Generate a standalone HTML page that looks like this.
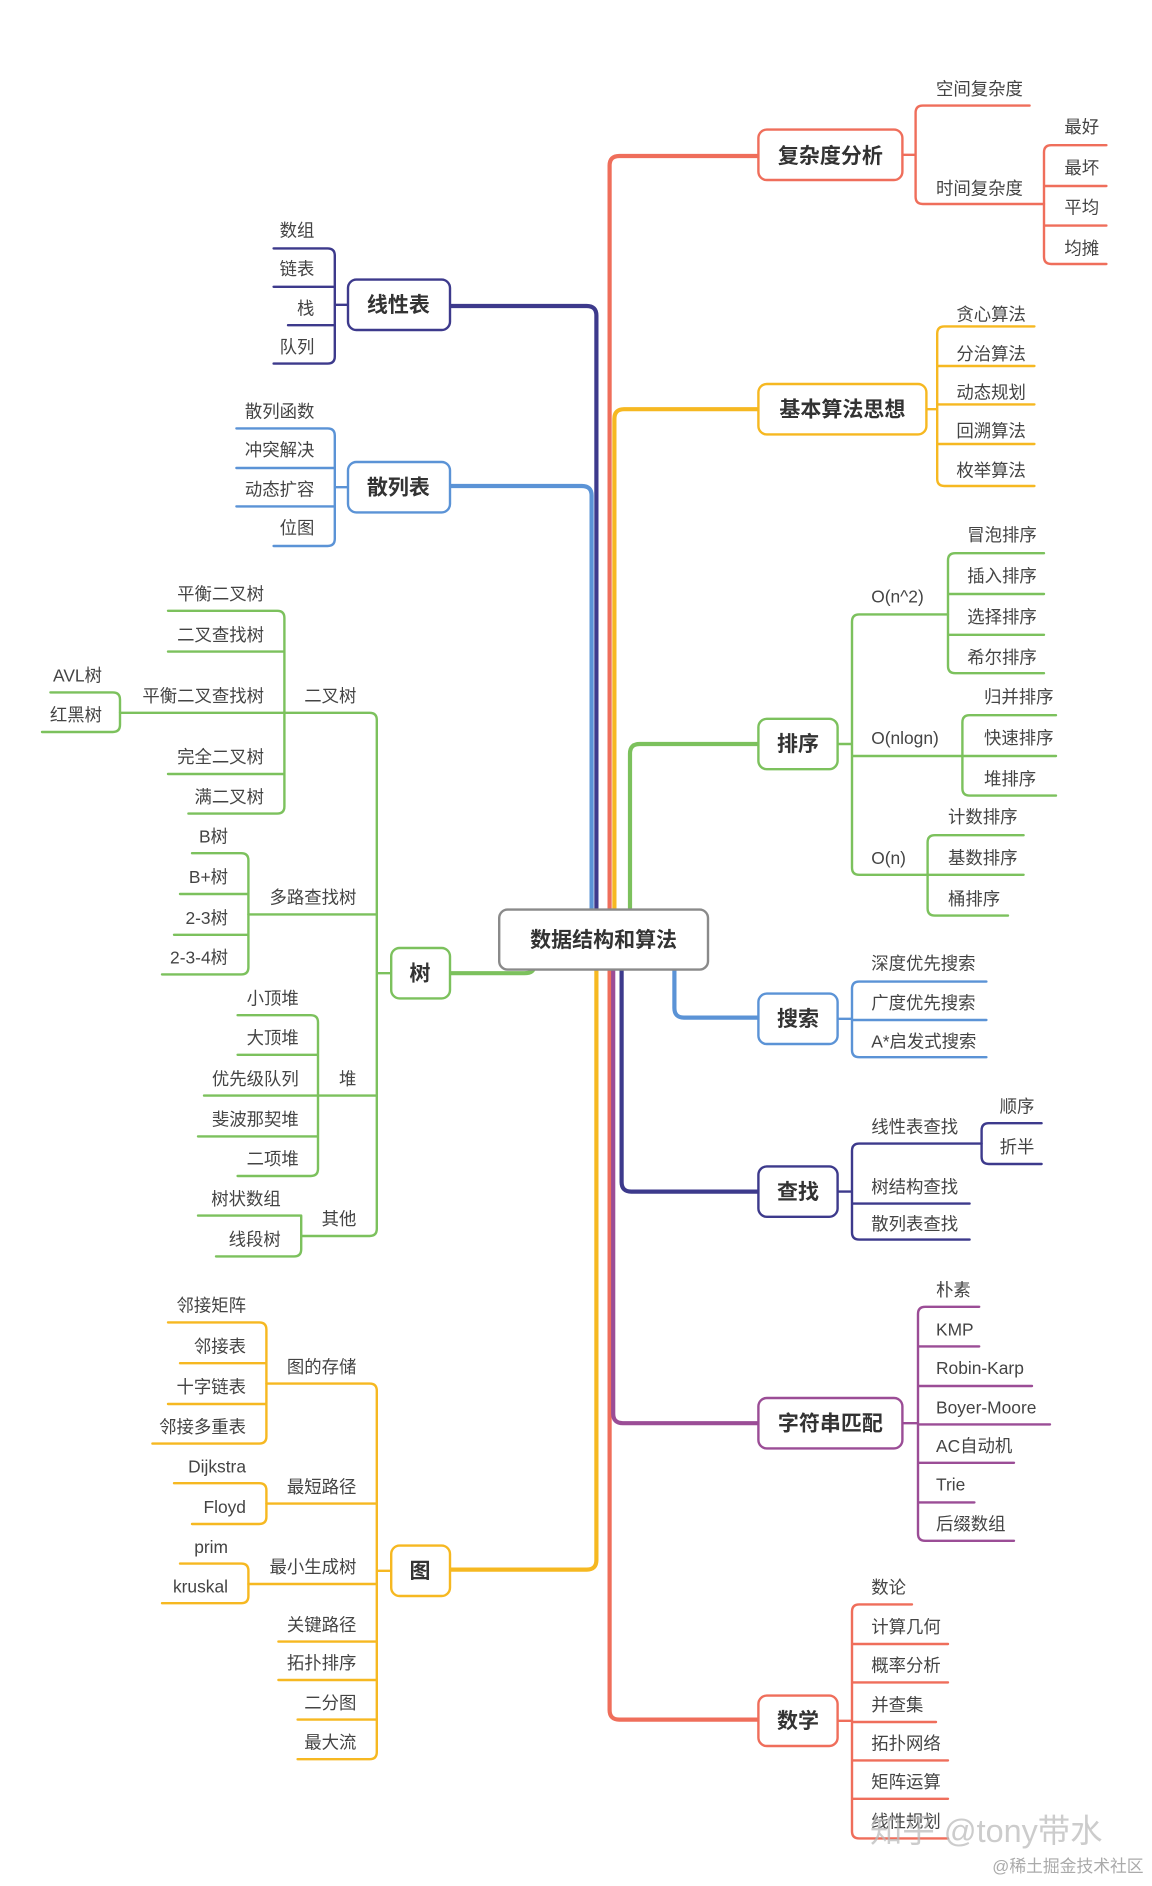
<!DOCTYPE html>
<html><head><meta charset="utf-8"><style>
html,body{margin:0;padding:0;background:#fff;}
svg{display:block;}
text{font-family:"Liberation Sans","Noto Sans CJK SC",sans-serif;fill:#444;font-size:14.5px;}
.n{font-size:17.5px;font-weight:bold;fill:#333;}
.r{text-anchor:end;}
</style></head><body>
<svg width="1152" height="1886" viewBox="0 0 960 1571.67" xmlns="http://www.w3.org/2000/svg">
<g fill="none" stroke-linecap="round" stroke-linejoin="round">
<!-- trunk -->
<g stroke-width="3.5">
<path stroke="#ef6e5b" d="M632,130 H516 Q508,130 508,138 V1425 Q508,1433 516,1433 H632"/>
<path stroke="#f6b821" d="M632,341 H520 Q512,341 512,349 V780"/>
<path stroke="#f6b821" d="M497,780 V1300 Q497,1308 489,1308 H376"/>
<path stroke="#7cc15d" d="M632,620 H533 Q525,620 525,628 V780"/>
<path stroke="#3d3a8c" d="M376,255 H489 Q497,255 497,263 V780"/>
<path stroke="#5b93d6" d="M376,405 H485 Q493,405 493,413 V780"/>
<path stroke="#3d3a8c" d="M518,790 V985 Q518,993 526,993 H632"/>
<path stroke="#9b4d96" d="M511,790 V1178 Q511,1186 519,1186 H632"/>
<path stroke="#5b93d6" d="M562,790 V840 Q562,848 570,848 H632"/>
<path stroke="#7cc15d" d="M445,790 V805 Q445,811 437,811 H376"/>
</g>
<g stroke-width="2">
<!-- 复杂度分析 -->
<g stroke="#ef6e5b">
<path d="M752,129 H763 M858,88 H769 Q763,88 763,94 V164 Q763,170 769,170 H870"/>
<path d="M922,121 H876 Q870,121 870,127 V214 Q870,220 876,220 H922 M870,155 H922 M870,188 H922"/>
</g>
<!-- 基本算法思想 -->
<g stroke="#f6b821">
<path d="M772,341 H781 M862,272 H787 Q781,272 781,278 V399 Q781,405 787,405 H862 M781,305 H862 M781,337 H862 M781,370 H862"/>
</g>
<!-- 排序 -->
<g stroke="#7cc15d">
<path d="M698,620 H710 M790,512 H716 Q710,512 710,518 V723 Q710,729 716,729 H773 M710,630 H802"/>
<path d="M870,461 H796 Q790,461 790,467 V555 Q790,561 796,561 H870 M790,495 H870 M790,529 H870"/>
<path d="M880,596 H808 Q802,596 802,602 V657 Q802,663 808,663 H880 M802,630 H880"/>
<path d="M853,696 H779 Q773,696 773,702 V757 Q773,763 779,763 H840 M773,729 H853"/>
</g>
<!-- 搜索 -->
<g stroke="#5b93d6">
<path d="M698,849 H710 M822,818 H716 Q710,818 710,824 V875 Q710,881 716,881 H822 M710,850 H822"/>
</g>
<!-- 查找 -->
<g stroke="#3d3a8c">
<path d="M698,993 H710 M818,953 H716 Q710,953 710,959 V1027 Q710,1033 716,1033 H808 M710,1003 H808"/>
<path d="M868,936 H824 Q818,936 818,942 V964 Q818,970 824,970 H868"/>
</g>
<!-- 字符串匹配 -->
<g stroke="#9b4d96">
<path d="M752,1186 H765 M816,1089 H771 Q765,1089 765,1095 V1278 Q765,1284 771,1284 H845 M765,1122 H816 M765,1155 H860 M765,1187 H875 M765,1219 H845 M765,1252 H812"/>
</g>
<!-- 数学 -->
<g stroke="#ef6e5b">
<path d="M698,1434 H710 M760,1337 H716 Q710,1337 710,1343 V1526 Q710,1532 716,1532 H790 M710,1370 H790 M710,1402 H790 M710,1435 H780 M710,1467 H790 M710,1499 H790"/>
</g>
<!-- 线性表 -->
<g stroke="#3d3a8c">
<path d="M290,254 H279 M228,207 H273 Q279,207 279,213 V297 Q279,303 273,303 H228 M228,239 H279 M240,271 H279"/>
</g>
<!-- 散列表 -->
<g stroke="#5b93d6">
<path d="M290,406 H279 M197,357 H273 Q279,357 279,363 V449 Q279,455 273,455 H228 M197,390 H279 M197,422 H279"/>
</g>
<!-- 树 -->
<g stroke="#7cc15d">
<path d="M326,811 H314 M237,594 H308 Q314,594 314,600 V1024 Q314,1030 308,1030 H251 M207,762 H314 M265,913 H314"/>
<path d="M140,509 H231 Q237,509 237,515 V672 Q237,678 231,678 H157 M140,543 H237 M140,645 H237 M100,594 H237"/>
<path d="M42,577 H94 Q100,577 100,583 V604 Q100,610 94,610 H35"/>
<path d="M160,711 H201 Q207,711 207,717 V806 Q207,812 201,812 H135 M150,745 H207 M145,779 H207"/>
<path d="M198,846 H259 Q265,846 265,852 V974 Q265,980 259,980 H198 M198,879 H265 M170,913 H265 M165,947 H265"/>
<path d="M165,1013 H251 M180,1047 H245 Q251,1047 251,1041 V1013"/>
</g>
<!-- 图 -->
<g stroke="#f6b821">
<path d="M326,1309 H314 M222,1153 H308 Q314,1153 314,1159 V1460 Q314,1466 308,1466 H248 M222,1253 H314 M207,1320 H314 M232,1368 H314 M232,1400 H314 M248,1433 H314"/>
<path d="M140,1102 H216 Q222,1102 222,1108 V1197 Q222,1203 216,1203 H127 M150,1136 H222 M140,1170 H222"/>
<path d="M145,1236 H216 Q222,1236 222,1242 V1264 Q222,1270 216,1270 H160"/>
<path d="M150,1303 H201 Q207,1303 207,1309 V1330 Q207,1336 201,1336 H135"/>
</g>
</g>
<!-- nodes -->
<g stroke-width="2" fill="#fff">
<rect x="416" y="758" width="174" height="50" rx="7" stroke="#8a8a8a"/>
<rect x="632" y="108" width="120" height="42" rx="7" stroke="#ef6e5b"/>
<rect x="632" y="320" width="140" height="42" rx="7" stroke="#f6b821"/>
<rect x="632" y="599" width="66" height="42" rx="7" stroke="#7cc15d"/>
<rect x="632" y="828" width="66" height="42" rx="7" stroke="#5b93d6"/>
<rect x="632" y="972" width="66" height="42" rx="7" stroke="#3d3a8c"/>
<rect x="632" y="1165" width="120" height="42" rx="7" stroke="#9b4d96"/>
<rect x="632" y="1413" width="66" height="42" rx="7" stroke="#ef6e5b"/>
<rect x="290" y="233" width="85" height="42" rx="7" stroke="#3d3a8c"/>
<rect x="290" y="385" width="85" height="42" rx="7" stroke="#5b93d6"/>
<rect x="326" y="790" width="49" height="42" rx="7" stroke="#7cc15d"/>
<rect x="326" y="1288" width="49" height="42" rx="7" stroke="#f6b821"/>
</g>
</g>
<g class="n">
<text class="n" x="503" y="789" text-anchor="middle">数据结构和算法</text>
<text class="n" x="692" y="136" text-anchor="middle">复杂度分析</text>
<text class="n" x="702" y="347" text-anchor="middle">基本算法思想</text>
<text class="n" x="665" y="626" text-anchor="middle">排序</text>
<text class="n" x="665" y="855" text-anchor="middle">搜索</text>
<text class="n" x="665" y="999" text-anchor="middle">查找</text>
<text class="n" x="692" y="1192" text-anchor="middle">字符串匹配</text>
<text class="n" x="665" y="1440" text-anchor="middle">数学</text>
<text class="n" x="332" y="260" text-anchor="middle">线性表</text>
<text class="n" x="332" y="412" text-anchor="middle">散列表</text>
<text class="n" x="350" y="817" text-anchor="middle">树</text>
<text class="n" x="350" y="1315" text-anchor="middle">图</text>
</g>
<!-- right leaves -->
<text x="780" y="79">空间复杂度</text>
<text x="780" y="162">时间复杂度</text>
<text x="887" y="111">最好</text>
<text x="887" y="145">最坏</text>
<text x="887" y="178">平均</text>
<text x="887" y="212">均摊</text>
<text x="797" y="267">贪心算法</text>
<text x="797" y="300">分治算法</text>
<text x="797" y="332">动态规划</text>
<text x="797" y="364">回溯算法</text>
<text x="797" y="397">枚举算法</text>
<text x="726" y="502">O(n^2)</text>
<text x="726" y="620">O(nlogn)</text>
<text x="726" y="720">O(n)</text>
<text x="806" y="451">冒泡排序</text>
<text x="806" y="485">插入排序</text>
<text x="806" y="519">选择排序</text>
<text x="806" y="553">希尔排序</text>
<text x="820" y="586">归并排序</text>
<text x="820" y="620">快速排序</text>
<text x="820" y="654">堆排序</text>
<text x="790" y="686">计数排序</text>
<text x="790" y="720">基数排序</text>
<text x="790" y="754">桶排序</text>
<text x="726" y="808">深度优先搜索</text>
<text x="726" y="841">广度优先搜索</text>
<text x="726" y="873">A*启发式搜索</text>
<text x="726" y="944">线性表查找</text>
<text x="726" y="994">树结构查找</text>
<text x="726" y="1025">散列表查找</text>
<text x="833" y="927">顺序</text>
<text x="833" y="961">折半</text>
<text x="780" y="1080">朴素</text>
<text x="780" y="1113">KMP</text>
<text x="780" y="1145">Robin-Karp</text>
<text x="780" y="1178">Boyer-Moore</text>
<text x="780" y="1210">AC自动机</text>
<text x="780" y="1242">Trie</text>
<text x="780" y="1275">后缀数组</text>
<text x="726" y="1328">数论</text>
<text x="726" y="1361">计算几何</text>
<text x="726" y="1393">概率分析</text>
<text x="726" y="1426">并查集</text>
<text x="726" y="1458">拓扑网络</text>
<text x="726" y="1490">矩阵运算</text>
<text x="726" y="1523">线性规划</text>
<!-- left leaves -->
<g class="r">
<text class="r" x="262" y="197">数组</text>
<text class="r" x="262" y="229">链表</text>
<text class="r" x="262" y="262">栈</text>
<text class="r" x="262" y="294">队列</text>
<text class="r" x="262" y="348">散列函数</text>
<text class="r" x="262" y="380">冲突解决</text>
<text class="r" x="262" y="413">动态扩容</text>
<text class="r" x="262" y="445">位图</text>
<text class="r" x="297" y="585">二叉树</text>
<text class="r" x="220" y="500">平衡二叉树</text>
<text class="r" x="220" y="534">二叉查找树</text>
<text class="r" x="220" y="585">平衡二叉查找树</text>
<text class="r" x="220" y="636">完全二叉树</text>
<text class="r" x="220" y="669">满二叉树</text>
<text class="r" x="85" y="568">AVL树</text>
<text class="r" x="85" y="601">红黑树</text>
<text class="r" x="297" y="753">多路查找树</text>
<text class="r" x="190" y="702">B树</text>
<text class="r" x="190" y="736">B+树</text>
<text class="r" x="190" y="770">2-3树</text>
<text class="r" x="190" y="803">2-3-4树</text>
<text class="r" x="297" y="904">堆</text>
<text class="r" x="249" y="837">小顶堆</text>
<text class="r" x="249" y="870">大顶堆</text>
<text class="r" x="249" y="904">优先级队列</text>
<text class="r" x="249" y="938">斐波那契堆</text>
<text class="r" x="249" y="971">二项堆</text>
<text class="r" x="297" y="1021">其他</text>
<text class="r" x="234" y="1004">树状数组</text>
<text class="r" x="234" y="1038">线段树</text>
<text class="r" x="297" y="1144">图的存储</text>
<text class="r" x="205" y="1093">邻接矩阵</text>
<text class="r" x="205" y="1127">邻接表</text>
<text class="r" x="205" y="1161">十字链表</text>
<text class="r" x="205" y="1194">邻接多重表</text>
<text class="r" x="297" y="1244">最短路径</text>
<text class="r" x="205" y="1227">Dijkstra</text>
<text class="r" x="205" y="1261">Floyd</text>
<text class="r" x="297" y="1311">最小生成树</text>
<text class="r" x="190" y="1294">prim</text>
<text class="r" x="190" y="1327">kruskal</text>
<text class="r" x="297" y="1359">关键路径</text>
<text class="r" x="297" y="1391">拓扑排序</text>
<text class="r" x="297" y="1424">二分图</text>
<text class="r" x="297" y="1457">最大流</text>
</g>
<text x="725" y="1535" style="font-size:27px;fill:#bbb;fill-opacity:0.75">知乎 @tony带水</text>
<text x="953" y="1560" text-anchor="end" style="font-size:14px;fill:#aaa">@稀土掘金技术社区</text>
</svg>
</body></html>
